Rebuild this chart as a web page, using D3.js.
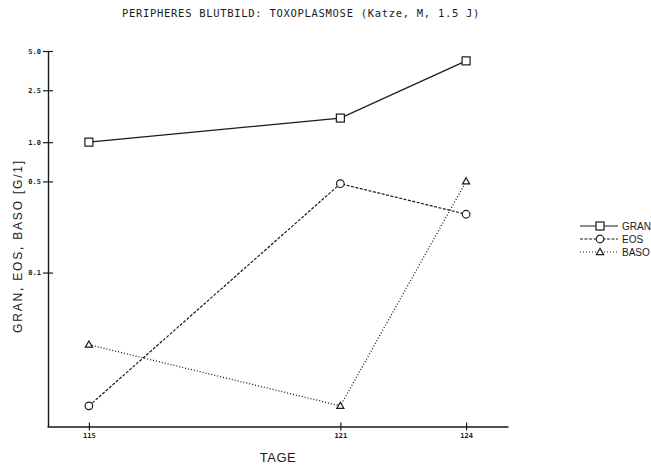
<!DOCTYPE html>
<meta charset="utf-8">
<script src="https://d3js.org/d3.v7.min.js"></script>
<style>
  body { margin: 0; background: #fff; }
</style>
<div id="chart"></div>
<script>
// data
const days = [115, 121, 124];
const gran = [1.0, 1.53, 4.2];
const eos = [0.0095, 0.48, 0.28];
const baso = [0.028, 0.0095, 0.5];
const yTicks = [0.1, 0.5, 1.0, 2.5, 5.0];
const seriesNames = ["GRAN", "EOS", "BASO"];

const width = 651, height = 466;
const ink = "#1a1a1a";

const svg = d3.select("#chart").append("svg")
    .attr("width", width)
    .attr("height", height);

const x = d3.scaleLinear().domain([114, 125]).range([47, 508]);
const y = d3.scaleLog().domain([0.0066, 5]).range([426.5, 51]);

// title
svg.append("text")
    .attr("x", 301).attr("y", 17)
    .attr("text-anchor", "middle")
    .style("font-family", "DejaVu Sans Mono")
    .style("font-size", "10.5px")
    .style("letter-spacing", "0.7px")
    .attr("fill", ink)
    .text("PERIPHERES BLUTBILD:  TOXOPLASMOSE (Katze, M, 1.5 J)");

//  y axis
const yAxis = svg.append("g")
    .attr("transform", "translate(48,0)")
    .call(d3.axisLeft(y).tickValues(yTicks).tickFormat(d3.format(".1f")).tickSizeInner(5).tickSizeOuter(0));
yAxis.selectAll(".tick line").attr("x1", 5).attr("stroke", ink).attr("stroke-width", 1.2);
yAxis.select(".domain").attr("stroke", ink).attr("stroke-width", 1.4);
yAxis.selectAll(".tick text")
    .attr("x", -7)
    .style("font-family", "DejaVu Sans Mono")
    .style("font-size", "7px")
    .style("font-weight", "bold")
    .attr("fill", ink);

//  x axis
const xAxis = svg.append("g")
    .attr("transform", "translate(0,426.5)")
    .call(d3.axisBottom(x).tickValues(days).tickFormat(d3.format("d")).tickSizeInner(4).tickSizeOuter(0));
xAxis.selectAll(".tick line").attr("y1", -4).attr("stroke", ink).attr("stroke-width", 1.2);
xAxis.select(".domain").attr("stroke", ink).attr("stroke-width", 1.4);
xAxis.selectAll(".tick text")
    .attr("y", 7)
    .style("font-family", "DejaVu Sans Mono")
    .style("font-size", "7px")
    .style("font-weight", "bold")
    .attr("fill", ink);

// axis titles
svg.append("text")
    .attr("x", 278).attr("y", 462)
    .attr("text-anchor", "middle")
    .style("font-family", "Liberation Sans")
    .style("font-size", "13px")
    .style("letter-spacing", "0.5px")
    .attr("fill", ink)
    .text("TAGE");

svg.append("text")
    .attr("transform", "translate(22,246) rotate(-90)")
    .attr("text-anchor", "middle")
    .style("font-family", "Liberation Sans")
    .style("font-size", "12px")
    .style("letter-spacing", "1.8px")
    .attr("fill", ink)
    .text("GRAN,  EOS,  BASO  [G/1]");

// series
const series = [
    {name: "GRAN", values: gran, dash: null, marker: "square"},
    {name: "EOS", values: eos, dash: "3,1.5", marker: "circle"},
    {name: "BASO", values: baso, dash: "1,2", marker: "triangle"}
];

const line = d3.line()
    .x((d, i) => x(days[i]))
    .y(d => y(d));

function drawMarker(g, type, cx, cy) {
    if (type === "square") {
        g.append("rect")
            .attr("x", cx - 4).attr("y", cy - 4)
            .attr("width", 8).attr("height", 8)
            .attr("fill", "#fff").attr("stroke", ink).attr("stroke-width", 1.2);
    } else if (type === "circle") {
        g.append("circle")
            .attr("cx", cx).attr("cy", cy).attr("r", 3.8)
            .attr("fill", "#fff").attr("stroke", ink).attr("stroke-width", 1.2);
    } else {
        g.append("path")
            .attr("d", d3.symbol(d3.symbolTriangle, 22)())
            .attr("transform", `translate(${cx},${cy + 0.5})`)
            .attr("fill", "#fff").attr("stroke", ink).attr("stroke-width", 1.2);
    }
}

series.forEach(function(s) {
    svg.append("path")
        .datum(s.values)
        .attr("d", line)
        .attr("fill", "none")
        .attr("stroke", ink)
        .attr("stroke-width", s.dash === "1,2" ? 1.3 : 1.2)
        .attr("stroke-dasharray", s.dash);
    const g = svg.append("g");
    s.values.forEach((v, i) => drawMarker(g, s.marker, x(days[i]), y(v)));
});

// legend
const legend = svg.append("g").attr("transform", "translate(580,226)");
series.forEach(function(s, i) {
    const row = legend.append("g").attr("transform", `translate(0,${i * 13})`);
    row.append("line")
        .attr("x1", 0).attr("x2", 38)
        .attr("stroke", ink)
        .attr("stroke-width", 1.2)
        .attr("stroke-dasharray", s.dash);
    drawMarker(row, s.marker, 20, 0);
    row.append("text")
        .attr("x", 42).attr("y", 3.5)
        .style("font-family", "Liberation Sans")
        .style("font-size", "10px")
        .attr("fill", ink)
        .text(seriesNames[i]);
});
</script>
